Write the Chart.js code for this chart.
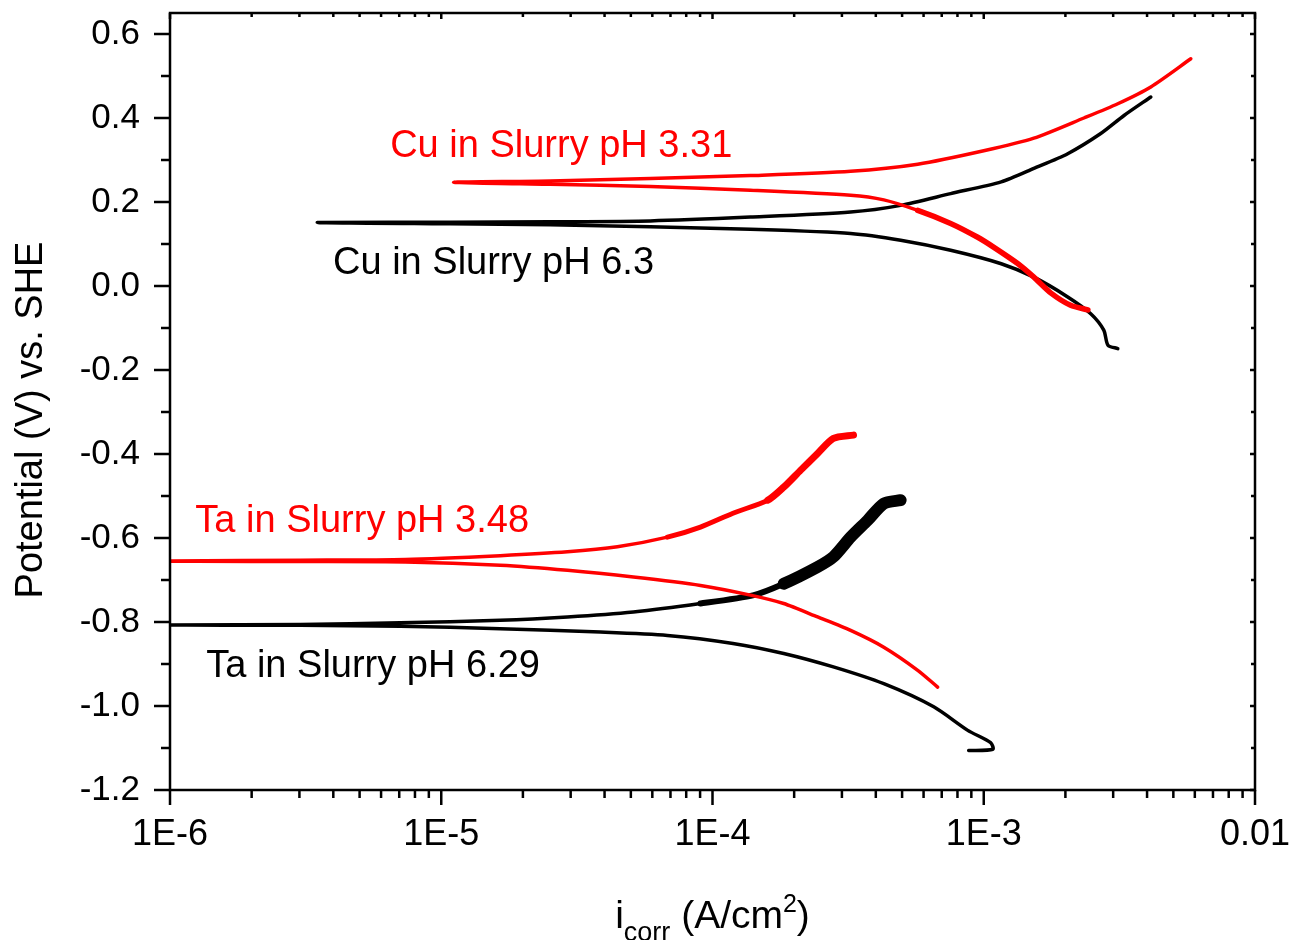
<!DOCTYPE html>
<html><head><meta charset="utf-8">
<script src="https://cdn.jsdelivr.net/npm/chart.js@4.4.1/dist/chart.umd.min.js"></script>
<style>html,body{margin:0;padding:0;background:#fff}#wrap{width:1291px;height:940px;position:relative}</style>
</head><body><div id="wrap"><canvas id="c"></canvas></div>
<script>
// ---- axis ticks ----
const xDecades = [1e-6, 1e-5, 1e-4, 1e-3, 1e-2];
const xTickLabels = ['1E-6', '1E-5', '1E-4', '1E-3', '0.01'];
const yMajorValues = [-1.2, -1.0, -0.8, -0.6, -0.4, -0.2, 0.0, 0.2, 0.4, 0.6];
const yTickLabels = ['-1.2', '-1.0', '-0.8', '-0.6', '-0.4', '-0.2', '0.0', '0.2', '0.4', '0.6'];
const yMinorValues = [-1.1, -0.9, -0.7, -0.5, -0.3, -0.1, 0.1, 0.3, 0.5];

// ---- series: current density (A/cm2) and potential (V vs SHE), in scan order ----
const cu331_i = [2.42e-3, 2.09e-3, 1.77e-3, 1.53e-3, 1.33e-3, 1.09e-3, 9.5e-4, 7.55e-4, 5.71e-4, 4.28e-4, 3.23e-4, 1.38e-4, 5.9e-5, 2.52e-5, 1.11e-5, 2.52e-5, 5.9e-5, 1.38e-4, 3.23e-4, 5.71e-4, 1.0e-3, 1.53e-3, 2.34e-3, 3.12e-3, 4.13e-3, 5.8e-3];
const cu331_E = [-0.057, -0.046, -0.017, 0.021, 0.054, 0.092, 0.116, 0.149, 0.180, 0.205, 0.216, 0.228, 0.237, 0.242, 0.247, 0.250, 0.256, 0.263, 0.273, 0.290, 0.322, 0.352, 0.400, 0.434, 0.474, 0.541];

const cu63_i = [3.12e-3, 2.87e-3, 2.77e-3, 2.48e-3, 2.04e-3, 1.53e-3, 1.16e-3, 7.55e-4, 4.94e-4, 3.23e-4, 1.38e-4, 5.9e-5, 2.52e-5, 1.08e-5, 3.49e-6, 1.08e-5, 2.52e-5, 5.9e-5, 1.38e-4, 3.23e-4, 4.94e-4, 7.55e-4, 1.16e-3, 1.53e-3, 2.04e-3, 2.70e-3, 3.29e-3, 4.13e-3];
const cu63_E = [-0.149, -0.141, -0.105, -0.066, -0.026, 0.021, 0.053, 0.085, 0.109, 0.125, 0.135, 0.141, 0.146, 0.148, 0.151, 0.152, 0.153, 0.155, 0.164, 0.176, 0.192, 0.220, 0.248, 0.280, 0.315, 0.363, 0.406, 0.450];

const ta348_i = [6.76e-4, 5.71e-4, 4.28e-4, 3.23e-4, 2.44e-4, 1.83e-4, 1.38e-4, 9.03e-5, 5.11e-5, 2.92e-5, 1.65e-5, 7.37e-6, 3.02e-6, 1.0e-6, 3.02e-6, 7.37e-6, 1.65e-5, 2.92e-5, 4.46e-5, 6.82e-5, 9.03e-5, 1.19e-4, 1.60e-4, 1.83e-4, 2.11e-4, 2.44e-4, 2.79e-4, 3.31e-4];
const ta348_E = [-0.955, -0.915, -0.860, -0.820, -0.788, -0.756, -0.736, -0.713, -0.693, -0.677, -0.665, -0.657, -0.656, -0.655, -0.653, -0.651, -0.642, -0.633, -0.621, -0.598, -0.574, -0.541, -0.510, -0.479, -0.439, -0.399, -0.363, -0.355];

const ta629_i = [8.80e-4, 1.08e-3, 1.06e-3, 8.73e-4, 6.54e-4, 4.28e-4, 2.79e-4, 1.83e-4, 1.19e-4, 6.82e-5, 3.86e-5, 1.65e-5, 7.06e-6, 3.02e-6, 1.0e-6, 3.02e-6, 7.06e-6, 1.65e-5, 2.92e-5, 5.11e-5, 9.03e-5, 1.42e-4, 1.83e-4, 2.44e-4, 2.79e-4, 3.23e-4, 3.73e-4, 4.28e-4, 4.94e-4];
const ta629_E = [-1.106, -1.103, -1.087, -1.058, -1.002, -0.947, -0.907, -0.875, -0.851, -0.832, -0.824, -0.816, -0.810, -0.808, -0.807, -0.806, -0.802, -0.796, -0.788, -0.776, -0.756, -0.736, -0.709, -0.669, -0.645, -0.598, -0.558, -0.518, -0.510];

// ---- curve labels (text, anchor current, anchor potential, colour) ----
const labelTexts = ['Cu in Slurry pH 3.31', 'Cu in Slurry pH 6.3', 'Ta in Slurry pH 3.48', 'Ta in Slurry pH 6.29'];
const labelI = [6.48e-6, 3.99e-6, 1.24e-6, 1.36e-6];
const labelE = [0.307, 0.028, -0.586, -0.932];
const labelColors = ['#ff0000', '#000000', '#ff0000', '#000000'];

const RED = '#ff0000', BLACK = '#000000';
const FONT = '"Liberation Sans", Arial, Helvetica, sans-serif';

function pts(iArr, eArr) { return iArr.map((v, k) => ({ x: v, y: eArr[k] })); }
function tipIndex(iArr) { let m = 0; iArr.forEach((v, k) => { if (v < iArr[m]) m = k; }); return m; }
function noisyWidth(iArr, eArr, side, bands) {
  const t = tipIndex(iArr);
  return c => {
    const a = c.p0DataIndex, b = c.p1DataIndex;
    const onSide = side === 'anodic' ? a >= t : b <= t;
    if (!onSide) return undefined;
    const e0 = eArr[a], e1 = eArr[b];
    for (const [lo, hi, w] of bands) {
      if (e0 >= lo && e0 <= hi && e1 >= lo && e1 <= hi) return w;
    }
    return undefined;
  };
}
function isDecade(v) { const l = Math.log10(v); return Math.abs(l - Math.round(l)) < 1e-6; }
function isYMajor(v) { return yMajorValues.some(m => Math.abs(m - v) < 1e-6); }

const decor = {
  id: 'decor',
  afterDraw(chart) {
    const { ctx, chartArea: a, scales: { x, y } } = chart;
    ctx.save();
    ctx.strokeStyle = BLACK; ctx.lineWidth = 2.5; ctx.lineCap = 'butt';
    ctx.strokeRect(a.left, a.top, a.right - a.left, a.bottom - a.top);
    ctx.beginPath();
    x.ticks.forEach(t => {
      const px = x.getPixelForValue(t.value);
      const maj = isDecade(t.value);
      ctx.moveTo(px, a.bottom); ctx.lineTo(px, a.bottom + (maj ? 15 : 8));
      ctx.moveTo(px, a.top); ctx.lineTo(px, a.top + (maj ? 6 : 4));
    });
    y.ticks.forEach(t => {
      const py = y.getPixelForValue(t.value);
      const maj = isYMajor(t.value);
      ctx.moveTo(a.left, py); ctx.lineTo(a.left - (maj ? 16 : 9), py);
      ctx.moveTo(a.right, py); ctx.lineTo(a.right - (maj ? 5 : 4), py);
    });
    ctx.stroke();

    // curve labels
    ctx.font = '38px ' + FONT; ctx.textBaseline = 'alphabetic'; ctx.textAlign = 'left';
    labelTexts.forEach((s, k) => {
      ctx.fillStyle = labelColors[k];
      ctx.fillText(s, x.getPixelForValue(labelI[k]), y.getPixelForValue(labelE[k]));
    });

    // y title
    ctx.fillStyle = BLACK;
    ctx.save();
    ctx.translate(42, 420);
    ctx.rotate(-Math.PI / 2);
    ctx.textAlign = 'center';
    ctx.font = '38px ' + FONT;
    ctx.fillText('Potential (V) vs. SHE', 0, 0);
    ctx.restore();

    // x title with sub/superscript
    const parts = [['i', 39, 0], ['corr', 27, 13], [' (A/cm', 39, 0], ['2', 25, -16], [')', 39, 0]];
    let total = 0;
    parts.forEach(p => { ctx.font = p[1] + 'px ' + FONT; total += ctx.measureText(p[0]).width; });
    let cx = (a.left + a.right) / 2 - total / 2;
    const base = 928;
    ctx.textAlign = 'left';
    parts.forEach(p => {
      ctx.font = p[1] + 'px ' + FONT;
      ctx.fillText(p[0], cx, base + p[2]);
      cx += ctx.measureText(p[0]).width;
    });
    ctx.restore();
  }
};

Chart.defaults.font.family = FONT;
Chart.defaults.color = BLACK;

new Chart(document.getElementById('c'), {
  type: 'line',
  data: {
    datasets: [
      { label: 'Cu in Slurry pH 3.31', data: pts(cu331_i, cu331_E), borderColor: RED,
        segment: { borderWidth: noisyWidth(cu331_i, cu331_E, 'cathodic', [[-0.06, 0.20, 5.5]]) } },
      { label: 'Ta in Slurry pH 3.48', data: pts(ta348_i, ta348_E), borderColor: RED,
        segment: { borderWidth: noisyWidth(ta348_i, ta348_E, 'anodic', [[-0.52, -0.35, 7], [-0.60, -0.50, 5]]) } },
      { label: 'Cu in Slurry pH 6.3', data: pts(cu63_i, cu63_E), borderColor: BLACK },
      { label: 'Ta in Slurry pH 6.29', data: pts(ta629_i, ta629_E), borderColor: BLACK,
        segment: { borderWidth: noisyWidth(ta629_i, ta629_E, 'anodic', [[-0.72, -0.50, 12], [-0.757, -0.70, 6]]) } }
    ]
  },
  options: {
    responsive: true,
    maintainAspectRatio: false,
    animation: false,
    elements: {
      line: { borderWidth: 3.5, tension: 0.25, fill: false, borderJoinStyle: 'round', borderCapStyle: 'round' },
      point: { radius: 0, hoverRadius: 0 }
    },
    layout: { padding: { left: 0, right: 36, top: 13, bottom: 0 } },
    plugins: { legend: { display: false }, tooltip: { enabled: false }, title: { display: false } },
    scales: {
      x: {
        type: 'logarithmic', min: 1e-6, max: 1e-2,
        grid: { display: false, drawTicks: false }, border: { display: false },
        afterBuildTicks: s => {
          const t = [];
          xDecades.forEach((d, k) => {
            t.push({ value: d });
            if (k < xDecades.length - 1) for (let m = 2; m <= 9; m++) t.push({ value: d * m });
          });
          s.ticks = t;
        },
        afterFit: s => { s.height = 150; s.paddingLeft = 0; s.paddingRight = 0; },
        ticks: {
          autoSkip: false, maxRotation: 0, minRotation: 0, padding: 23,
          font: { size: 36 }, color: BLACK,
          callback: v => { const k = xDecades.findIndex(d => Math.abs(Math.log10(d) - Math.log10(v)) < 1e-6); return k >= 0 ? xTickLabels[k] : ''; }
        }
      },
      y: {
        type: 'linear', min: -1.2, max: 0.65,
        grid: { display: false, drawTicks: false }, border: { display: false },
        afterBuildTicks: s => {
          s.ticks = yMajorValues.concat(yMinorValues).sort((p, q) => p - q).map(v => ({ value: v }));
        },
        afterFit: s => { s.width = 170; s.paddingTop = 0; s.paddingBottom = 0; },
        ticks: {
          autoSkip: false, padding: 30, font: { size: 35 }, color: BLACK,
          callback: v => { const k = yMajorValues.findIndex(m => Math.abs(m - v) < 1e-6); return k >= 0 ? yTickLabels[k] : ''; }
        }
      }
    }
  },
  plugins: [decor]
});
</script></body></html>
